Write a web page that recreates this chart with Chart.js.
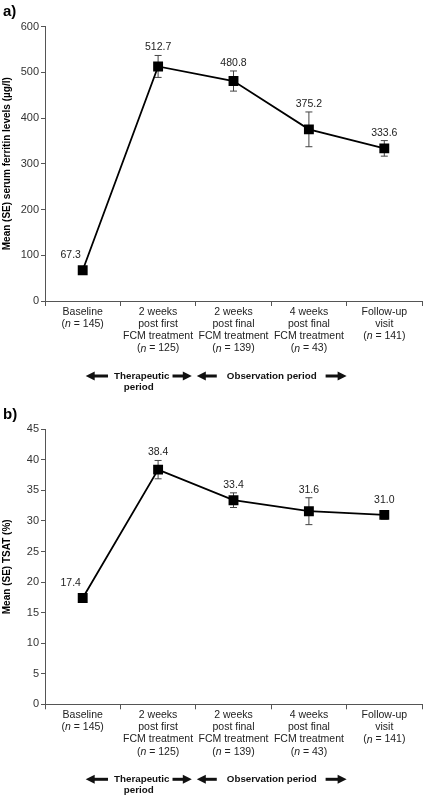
<!DOCTYPE html>
<html>
<head>
<meta charset="utf-8">
<script src="https://cdn.jsdelivr.net/npm/chart.js@4.4.1/dist/chart.umd.min.js"></script>
<style>
    html, body { margin: 0; padding: 0; background: #fff; }
    #wrap { position: relative; width: 429px; height: 796px; }
    canvas { position: absolute; left: 0; }
</style>
</head>
<body>
<div id="wrap">
    <canvas id="chartA" width="429" height="400" style="top:0;width:429px;height:400px"></canvas>
    <canvas id="chartB" width="429" height="396" style="top:400px;width:429px;height:396px"></canvas>
</div>
<script>
// Visits along the x axis (one array of text lines per visit)
const visitLines = [
    ['Baseline'],
    ['2 weeks', 'post first', 'FCM treatment'],
    ['2 weeks', 'post final', 'FCM treatment'],
    ['4 weeks', 'post final', 'FCM treatment'],
    ['Follow-up', 'visit']
];
const sampleSizes = [145, 125, 139, 43, 141];

// a) serum ferritin (µg/l)
const ferritinMean = [67.3, 512.7, 480.8, 375.2, 333.6];
const ferritinSE = [5, 24, 22, 38, 17];
const ferritinTicks = { min: 0, max: 600, step: 100 };

// b) TSAT (%)
const tsatMean = [17.4, 38.4, 33.4, 31.6, 31.0];
const tsatSE = [0.6, 1.5, 1.2, 2.2, 0.7];
const tsatTicks = { min: 0, max: 45, step: 5 };

const periodTexts = [['Therapeutic', 'period'], ['Observation period']];

const FONT = '"Liberation Sans", Arial, Helvetica, sans-serif';

function drawArrow(ctx, xFrom, xTo, y) {
    const dir = Math.sign(xTo - xFrom);
    ctx.beginPath();
    ctx.moveTo(xFrom, y);
    ctx.lineTo(xTo - dir * 6, y);
    ctx.lineWidth = 3;
    ctx.stroke();
    ctx.beginPath();
    ctx.moveTo(xTo, y);
    ctx.lineTo(xTo - dir * 9, y - 4.5);
    ctx.lineTo(xTo - dir * 9, y + 4.5);
    ctx.closePath();
    ctx.fill();
}

// Error bars, value labels, visit labels, period arrows and the panel letter
const panelDecor = {
    id: 'panelDecor',
    beforeDatasetsDraw(chart, args, opts) {
        const ctx = chart.ctx;
        const x = chart.scales.x, y = chart.scales.y;
        const mean = chart.data.datasets[0].data;
        ctx.save();
        ctx.strokeStyle = '#444';
        ctx.lineWidth = 1;
        mean.forEach((m, i) => {
            const px = x.getPixelForValue(i);
            const top = y.getPixelForValue(m + opts.se[i]);
            const bot = y.getPixelForValue(m - opts.se[i]);
            ctx.beginPath();
            ctx.moveTo(px, top); ctx.lineTo(px, bot);
            ctx.moveTo(px - 3.5, top); ctx.lineTo(px + 3.5, top);
            ctx.moveTo(px - 3.5, bot); ctx.lineTo(px + 3.5, bot);
            ctx.stroke();
        });
        ctx.restore();
    },
    afterDatasetsDraw(chart, args, opts) {
        const ctx = chart.ctx;
        const x = chart.scales.x, y = chart.scales.y;
        const area = chart.chartArea;
        const mean = chart.data.datasets[0].data;
        ctx.save();

        // value labels above the error bars
        ctx.fillStyle = '#222';
        ctx.font = '10.5px ' + FONT;
        ctx.textAlign = 'center';
        ctx.textBaseline = 'alphabetic';
        mean.forEach((m, i) => {
            const px = x.getPixelForValue(i);
            const py = y.getPixelForValue(m);
            const top = Math.min(y.getPixelForValue(m + opts.se[i]), py - 7);
            const dx = i === 0 ? -12 : 0;
            ctx.fillText(m.toFixed(1), px + dx, top - 5);
        });

        // visit labels under the axis
        const y0 = area.bottom + 10.7;
        const lh = 12.3;
        ctx.textBaseline = 'middle';
        visitLines.forEach((lines, i) => {
            const cx = x.getPixelForValue(i);
            ctx.textAlign = 'center';
            ctx.font = '10.5px ' + FONT;
            lines.forEach((t, k) => ctx.fillText(t, cx, y0 + k * lh));
            const ly = y0 + lines.length * lh;
            const parts = [
                ['(', '10.5px ' + FONT],
                ['n', 'italic 10.5px ' + FONT],
                [' = ' + sampleSizes[i] + ')', '10.5px ' + FONT]
            ];
            let total = 0;
            parts.forEach(p => { ctx.font = p[1]; total += ctx.measureText(p[0]).width; });
            let sx = cx - total / 2;
            ctx.textAlign = 'left';
            parts.forEach(p => {
                ctx.font = p[1];
                ctx.fillText(p[0], sx, ly);
                sx += ctx.measureText(p[0]).width;
            });
        });

        // study periods with arrows
        const c0 = x.getPixelForValue(0);
        const b12 = (x.getPixelForValue(1) + x.getPixelForValue(2)) / 2;
        const b34 = (x.getPixelForValue(3) + x.getPixelForValue(4)) / 2;
        const ay = area.bottom + 75;
        ctx.fillStyle = '#111';
        ctx.strokeStyle = '#111';
        ctx.font = 'bold 9.8px ' + FONT;
        ctx.textAlign = 'center';

        // therapeutic period
        let l = c0 + 3, r = b12 - 4, mid = (l + r) / 2 + 3;
        let w = ctx.measureText(periodTexts[0][0]).width;
        ctx.fillText(periodTexts[0][0], mid, ay);
        ctx.fillText(periodTexts[0][1], mid - 3, ay + 11);
        drawArrow(ctx, mid - w / 2 - 6, l, ay);
        drawArrow(ctx, mid + w / 2 + 3, r, ay);

        // observation period
        l = b12 + 1; r = b34; mid = (l + r) / 2;
        w = ctx.measureText(periodTexts[1][0]).width;
        ctx.fillText(periodTexts[1][0], mid, ay);
        drawArrow(ctx, mid - w / 2 - 10, l, ay);
        drawArrow(ctx, mid + w / 2 + 9, r, ay);

        // panel letter
        ctx.font = 'bold 15px ' + FONT;
        ctx.textAlign = 'left';
        ctx.textBaseline = 'alphabetic';
        ctx.fillStyle = '#000';
        ctx.fillText(opts.letter, 3, opts.letterY);

        ctx.restore();
    }
};

function makePanel(canvasId, mean, se, ticks, title, letter, letterY, top, xHeight) {
    return new Chart(document.getElementById(canvasId), {
        type: 'line',
        data: {
            labels: visitLines.map(l => l.join(' ')),
            datasets: [{
                data: mean,
                borderColor: '#000',
                borderWidth: 1.8,
                tension: 0,
                pointStyle: 'rect',
                pointRadius: 7,
                pointHoverRadius: 7,
                pointBackgroundColor: '#000',
                pointBorderColor: '#000',
                pointBorderWidth: 0
            }]
        },
        options: {
            responsive: false,
            animation: false,
            events: [],
            layout: { padding: { left: 0, right: 2, top: top, bottom: 0 } },
            plugins: {
                legend: { display: false },
                tooltip: { enabled: false },
                panelDecor: { se: se, letter: letter, letterY: letterY }
            },
            scales: {
                x: {
                    type: 'category',
                    offset: true,
                    ticks: { display: false },
                    grid: {
                        offset: true,
                        drawOnChartArea: false,
                        drawTicks: true,
                        tickLength: 5,
                        color: '#555'
                    },
                    border: { color: '#555', width: 1 },
                    afterFit: s => { s.height = xHeight; }
                },
                y: {
                    min: ticks.min,
                    max: ticks.max,
                    ticks: {
                        stepSize: ticks.step,
                        padding: 2,
                        color: '#333',
                        font: { family: FONT, size: 11 }
                    },
                    grid: {
                        drawOnChartArea: false,
                        drawTicks: true,
                        tickLength: 4,
                        color: '#555'
                    },
                    border: { color: '#555', width: 1 },
                    title: {
                        display: true,
                        text: title,
                        color: '#000',
                        padding: 1,
                        font: { family: FONT, size: 10, weight: 'bold' }
                    },
                    afterFit: s => { s.width = 45; }
                }
            }
        },
        plugins: [panelDecor]
    });
}

makePanel('chartA', ferritinMean, ferritinSE, ferritinTicks,
    'Mean (SE) serum ferritin levels (\u00b5g/l)', 'a)', 16, 26.5, 99);
makePanel('chartB', tsatMean, tsatSE, tsatTicks,
    'Mean (SE) TSAT (%)', 'b)', 19, 29.3, 91.7);
</script>
</body>
</html>
